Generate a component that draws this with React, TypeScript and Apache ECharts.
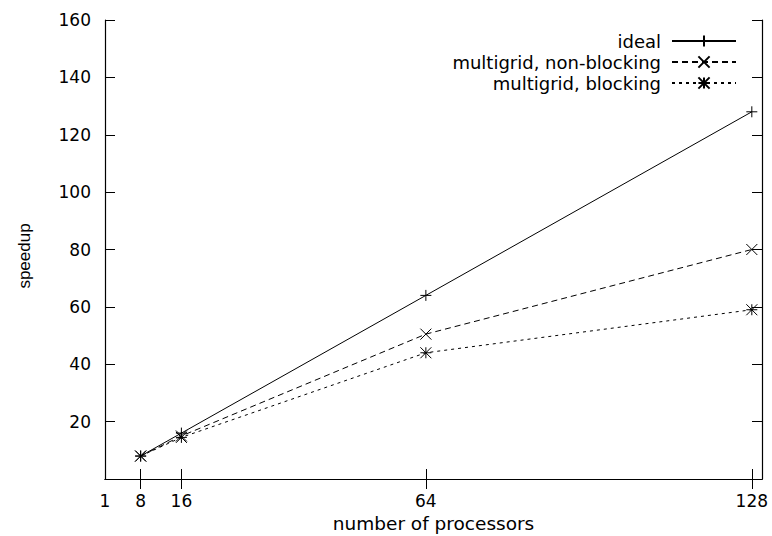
import React, { useEffect, useRef } from "react";
import * as echarts from "echarts";

const processors = [8, 16, 64, 128];
const ideal = [8, 16, 64, 128];
const nonBlocking = [8, 15, 50.5, 80];
const blocking = [8, 14.5, 44, 59];
const xTickLabels = [1, 8, 16, 64, 128];
const xTicks = [8, 16, 64, 128];
const seriesNames = ["ideal", "multigrid, non-blocking", "multigrid, blocking"];
const xTitle = "number of processors";
const yTitle = "speedup";

const FONT = '"DejaVu Sans", sans-serif';
const SANS = '"Liberation Sans", Arial, sans-serif';

const PLUS = "path://M0,5L10,5M5,0L5,10";
const CROSS = "path://M0,0L10,10M10,0L0,10";
const STAR = "path://M0,5L10,5M5,0L5,10M0,0L10,10M10,0L0,10";

export default function App() {
  const ref = useRef<HTMLDivElement>(null);
  useEffect(() => {
    if (!ref.current) return;
    const chart = echarts.init(ref.current, null, { renderer: "svg" });
    const pairs = (ys: number[]) => processors.map((x, i) => [x, ys[i]]);
    const mk = (name: string, ys: number[], symbol: string, dash: any) => ({
      name,
      type: "line",
      data: pairs(ys),
      symbol,
      symbolSize: 11,
      showSymbol: true,
      itemStyle: { color: "#000", borderColor: "#000", borderWidth: 1 },
      lineStyle: { color: "#000", width: 1, type: dash },
      emphasis: { disabled: true },
    });
    const legend = (name: string, top: number) => ({
      data: [name],
      orient: "vertical",
      right: 35,
      top,
      padding: 0,
      align: "right",
      itemWidth: 64,
      itemHeight: 14,
      selectedMode: false,
      textStyle: { fontFamily: FONT, fontSize: 18, color: "#000", padding: [0, 6, 0, 0] },
    });
    chart.setOption({
      animation: false,
      backgroundColor: "#fff",
      grid: { left: 105, right: 10, top: 20, bottom: 57, containLabel: false, outerBoundsMode: "none" },
      legend: [legend(seriesNames[0], 32), legend(seriesNames[1], 53), legend(seriesNames[2], 74)],
      graphic: [
        {
          type: "text",
          x: 24,
          y: 256,
          rotation: Math.PI / 2,
          style: {
            text: yTitle,
            fontFamily: SANS,
            fontSize: 17,
            fill: "#000",
            align: "center",
            verticalAlign: "middle",
          },
        },
      ],
      xAxis: [
        {
          type: "value",
          min: 1,
          max: 130,
          name: xTitle,
          nameLocation: "middle",
          nameGap: 31,
          nameTextStyle: { fontFamily: FONT, fontSize: 18.5, color: "#000" },
          axisLine: { show: true, lineStyle: { color: "#000", width: 1.2 } },
          axisTick: { show: true, inside: true, length: 10, customValues: xTicks, lineStyle: { color: "#000" } },
          axisLabel: { customValues: xTickLabels, fontFamily: FONT, fontSize: 17, color: "#000", margin: 13 },
          splitLine: { show: false },
        },
        {
          type: "value",
          position: "top",
          min: 1,
          max: 130,
          axisLine: { show: true, lineStyle: { color: "#000", width: 1.2 } },
          axisTick: { show: true, inside: true, length: 10, customValues: xTicks, lineStyle: { color: "#000" } },
          axisLabel: { show: false },
          splitLine: { show: false },
        },
      ],
      yAxis: [
        {
          type: "value",
          min: 0,
          max: 160,
          interval: 20,
          axisLine: { show: true, lineStyle: { color: "#000", width: 1.2 } },
          axisTick: { show: true, inside: true, length: 10, lineStyle: { color: "#000" } },
          axisLabel: {
            fontFamily: FONT,
            fontSize: 17,
            color: "#000",
            margin: 14,
            formatter: (v: number) => (v === 0 ? "" : String(v)),
          },
          splitLine: { show: false },
        },
        {
          type: "value",
          position: "right",
          min: 0,
          max: 160,
          interval: 20,
          axisLine: { show: true, lineStyle: { color: "#000", width: 1.2 } },
          axisTick: { show: true, inside: true, length: 10, lineStyle: { color: "#000" } },
          axisLabel: { show: false },
          splitLine: { show: false },
        },
      ],
      series: [
        mk(seriesNames[0], ideal, PLUS, "solid"),
        mk(seriesNames[1], nonBlocking, CROSS, [6, 4]),
        mk(seriesNames[2], blocking, STAR, [3, 4]),
      ],
    });
    return () => chart.dispose();
  }, []);
  return <div ref={ref} style={{ width: 772, height: 536, position: "absolute", left: 0, top: 0 }} />;
}
